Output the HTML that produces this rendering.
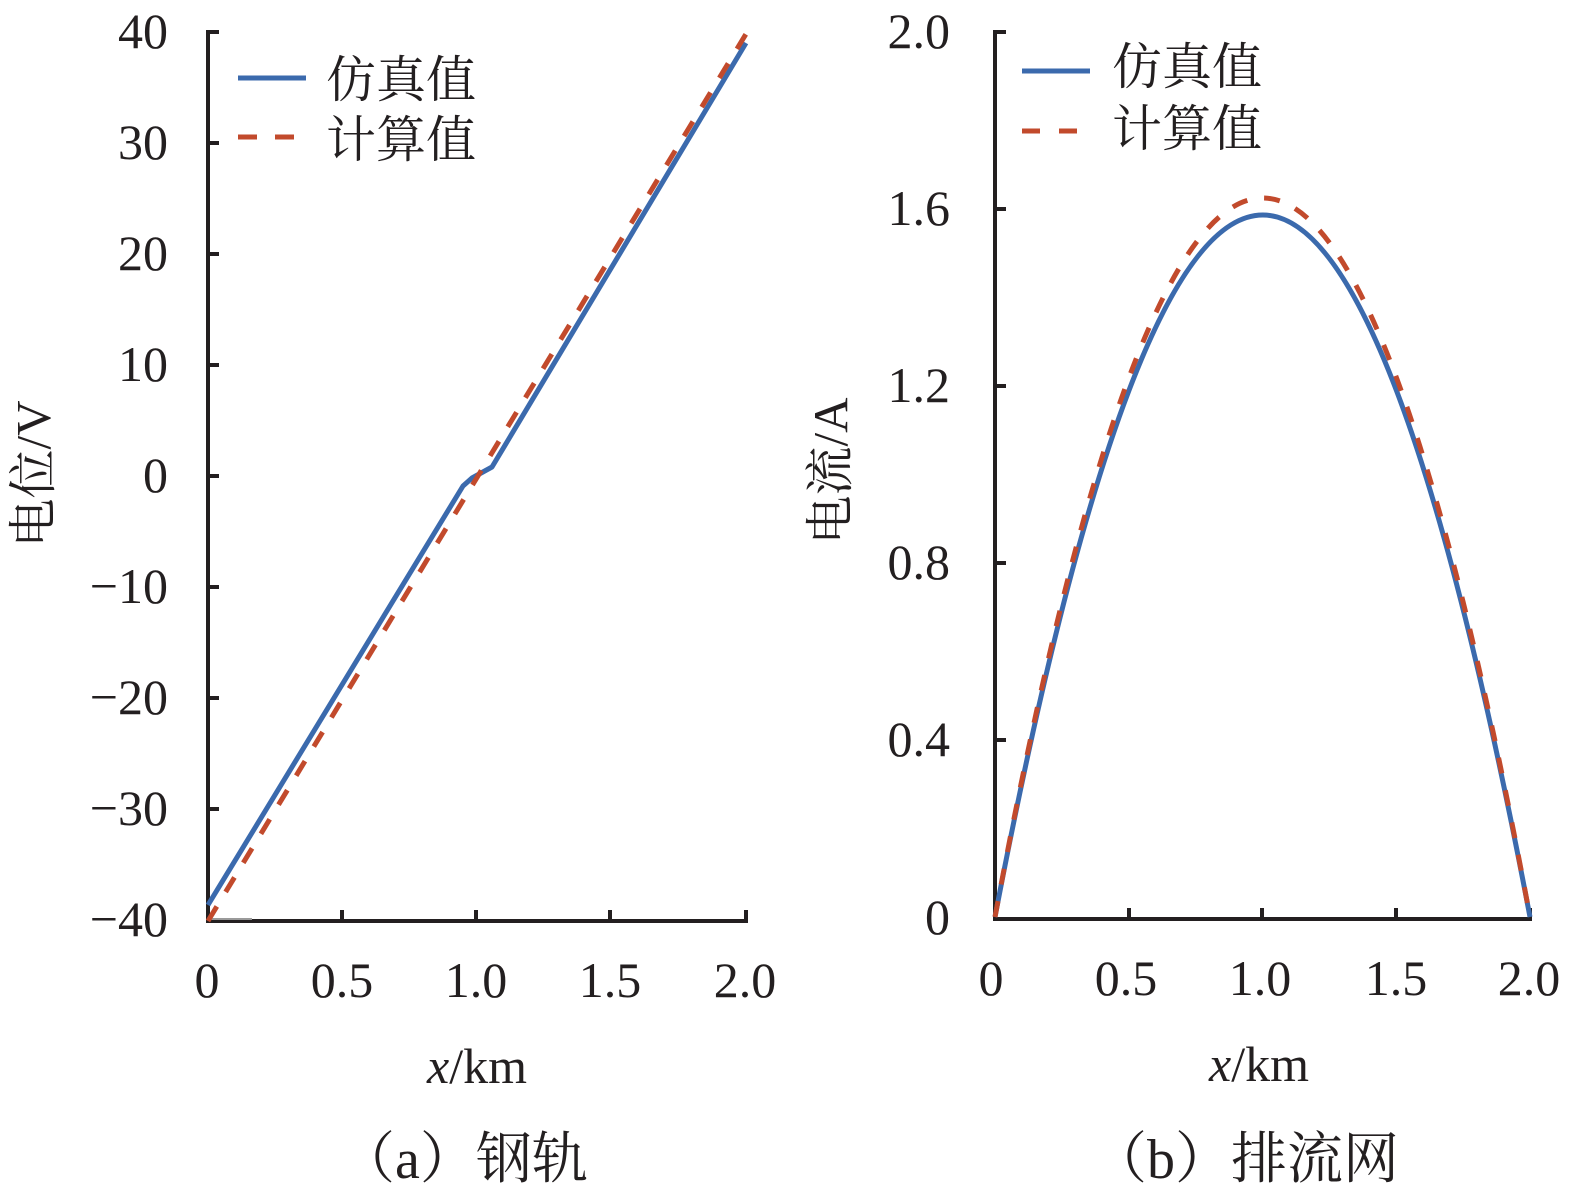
<!DOCTYPE html>
<html>
<head>
<meta charset="utf-8">
<style>
  html,body{margin:0;padding:0;background:#fff;}
  svg{display:block;}
  .num{font-family:"Liberation Serif",serif;font-size:50px;fill:#231f20;}
  .cjk{font-family:"Liberation Serif","Noto Serif CJK SC",serif;fill:#231f20;}
</style>
</head>
<body>
<svg width="1575" height="1196" viewBox="0 0 1575 1196" xmlns="http://www.w3.org/2000/svg">
  <rect width="1575" height="1196" fill="#fff"/>

  <!-- ============ LEFT CHART ============ -->
  <g stroke="#231f20" stroke-width="4" fill="none">
    <polyline points="219,32 208,32 208,921 746,921 746,910"/>
    <line x1="208" y1="143" x2="219" y2="143"/>
    <line x1="208" y1="254" x2="219" y2="254"/>
    <line x1="208" y1="365" x2="219" y2="365"/>
    <line x1="208" y1="476" x2="219" y2="476"/>
    <line x1="208" y1="587" x2="219" y2="587"/>
    <line x1="208" y1="698" x2="219" y2="698"/>
    <line x1="208" y1="809" x2="219" y2="809"/>
    <line x1="342" y1="921" x2="342" y2="910"/>
    <line x1="476" y1="921" x2="476" y2="910"/>
    <line x1="610" y1="921" x2="610" y2="910"/>
  </g>
  <line x1="210" y1="919" x2="252" y2="919" stroke="#9a9a9a" stroke-width="2"/>

  <!-- y tick labels -->
  <g class="num" text-anchor="end">
    <text x="168" y="48">40</text>
    <text x="168" y="159">30</text>
    <text x="168" y="270">20</text>
    <text x="168" y="381">10</text>
    <text x="168" y="492">0</text>
    <text x="168" y="603">−10</text>
    <text x="168" y="714">−20</text>
    <text x="168" y="825">−30</text>
    <text x="168" y="936">−40</text>
  </g>
  <!-- x tick labels -->
  <g class="num" text-anchor="middle">
    <text x="207" y="997">0</text>
    <text x="342" y="997">0.5</text>
    <text x="476" y="997">1.0</text>
    <text x="610" y="997">1.5</text>
    <text x="745" y="997">2.0</text>
  </g>
  <text class="num" x="477" y="1083" text-anchor="middle"><tspan font-style="italic">x</tspan>/km</text>
  <text class="cjk" x="50" y="474" font-size="49" text-anchor="middle" transform="rotate(-90 50 474)">电位/V</text>

  <!-- series -->
  <polyline points="208,905 463,486 472,478 492,467 746,43" fill="none" stroke="#3b6aad" stroke-width="5" stroke-linejoin="round"/>
  <line x1="208" y1="921" x2="746" y2="34" stroke="#c24a2c" stroke-width="5" stroke-dasharray="17 17"/>

  <!-- legend -->
  <line x1="238" y1="78" x2="306" y2="78" stroke="#3b6aad" stroke-width="5"/>
  <line x1="238" y1="137" x2="294" y2="137" stroke="#c24a2c" stroke-width="5" stroke-dasharray="19 18"/>
  <text class="cjk" x="326" y="97" font-size="50">仿真值</text>
  <text class="cjk" x="326" y="157" font-size="50">计算值</text>

  <text class="cjk" x="339" y="1178" font-size="56">（a）钢轨</text>

  <!-- ============ RIGHT CHART ============ -->
  <g stroke="#231f20" stroke-width="4" fill="none">
    <polyline points="1006,32 995,32 995,919 1530,919 1530,908"/>
    <line x1="995" y1="209" x2="1006" y2="209"/>
    <line x1="995" y1="386" x2="1006" y2="386"/>
    <line x1="995" y1="563" x2="1006" y2="563"/>
    <line x1="995" y1="740" x2="1006" y2="740"/>
    <line x1="1129" y1="919" x2="1129" y2="908"/>
    <line x1="1262" y1="919" x2="1262" y2="908"/>
    <line x1="1396" y1="919" x2="1396" y2="908"/>
  </g>

  <g class="num" text-anchor="end">
    <text x="950" y="48">2.0</text>
    <text x="950" y="225">1.6</text>
    <text x="950" y="402">1.2</text>
    <text x="950" y="579">0.8</text>
    <text x="950" y="756">0.4</text>
    <text x="950" y="934">0</text>
  </g>
  <g class="num" text-anchor="middle">
    <text x="991" y="995">0</text>
    <text x="1126" y="995">0.5</text>
    <text x="1260" y="995">1.0</text>
    <text x="1396" y="995">1.5</text>
    <text x="1529" y="995">2.0</text>
  </g>
  <text class="num" x="1259" y="1081" text-anchor="middle"><tspan font-style="italic">x</tspan>/km</text>
  <text class="cjk" x="847" y="471" font-size="49" text-anchor="middle" transform="rotate(-90 847 471)">电流/A</text>

  <path d="M995,917 Q1263,-487 1530,917" fill="none" stroke="#3b6aad" stroke-width="5"/>
  <path d="M995,917 Q1263,-521 1530,917" fill="none" stroke="#c24a2c" stroke-width="5" stroke-dasharray="16 17"/>

  <line x1="1022" y1="71" x2="1090" y2="71" stroke="#3b6aad" stroke-width="5"/>
  <line x1="1022" y1="131" x2="1078" y2="131" stroke="#c24a2c" stroke-width="5" stroke-dasharray="18 19"/>
  <text class="cjk" x="1112" y="84" font-size="50">仿真值</text>
  <text class="cjk" x="1112" y="146" font-size="50">计算值</text>

  <text class="cjk" x="1091" y="1178" font-size="56">（b）排流网</text>
</svg>
</body>
</html>
